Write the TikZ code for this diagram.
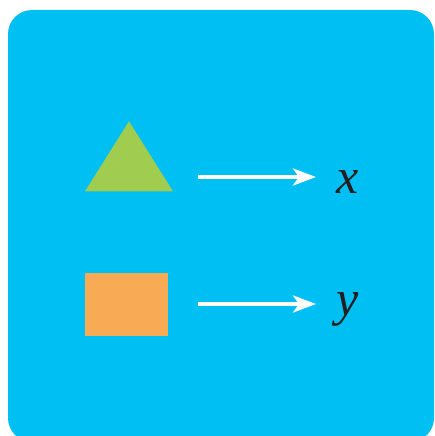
\documentclass[tikz,border=0pt]{standalone}
\usepackage{fontspec}
\setmainfont{Liberation Serif}
\usetikzlibrary{positioning, arrows.meta, shapes.geometric}
\definecolor{cardblue}{HTML}{00BFF3}
\definecolor{trigreen}{HTML}{A0CC50}
\definecolor{sqorange}{HTML}{F9AA55}
\definecolor{inkblack}{HTML}{231F20}

\begin{document}
\begin{tikzpicture}[
    x=1pt, y=-1pt,
    shapebox/.style={inner sep=0pt, outer sep=0pt, fill=#1},
    tri/.style={shapebox=trigreen, isosceles triangle, isosceles triangle stretches, shape border rotate=90, minimum width=88pt, minimum height=70pt},
    sq/.style={shapebox=sqorange, rectangle, minimum width=83pt, minimum height=63pt},
    maps/.style={-{Stealth[length=23pt, width=17pt, inset=6pt]}, line width=4pt, white, shorten >=20pt},
    var/.style={font=\fontsize{50}{60}\selectfont\itshape, text=inkblack, inner sep=0pt, anchor=base west},
]

% Card
\clip (0,0) rectangle (434,436);
\fill[cardblue, rounded corners=24pt] (8,10) rectangle (434,442);

% Shapes
\node[tri] (tri) at (129,167) {};
\node[sq] (sq) at (126.5,304.5) {};

% Labels
\node[var] (x) at (336,193) {x};
\node[var] (y) at (336,315) {y};

% Arrows
\draw[maps, shorten <=25pt] (tri.right corner |- 0,177) -- (x.west |- 0,177);
\draw[maps, shorten <=30pt] (sq.east |- 0,304) -- (y.west |- 0,304);

\end{tikzpicture}
\end{document}
